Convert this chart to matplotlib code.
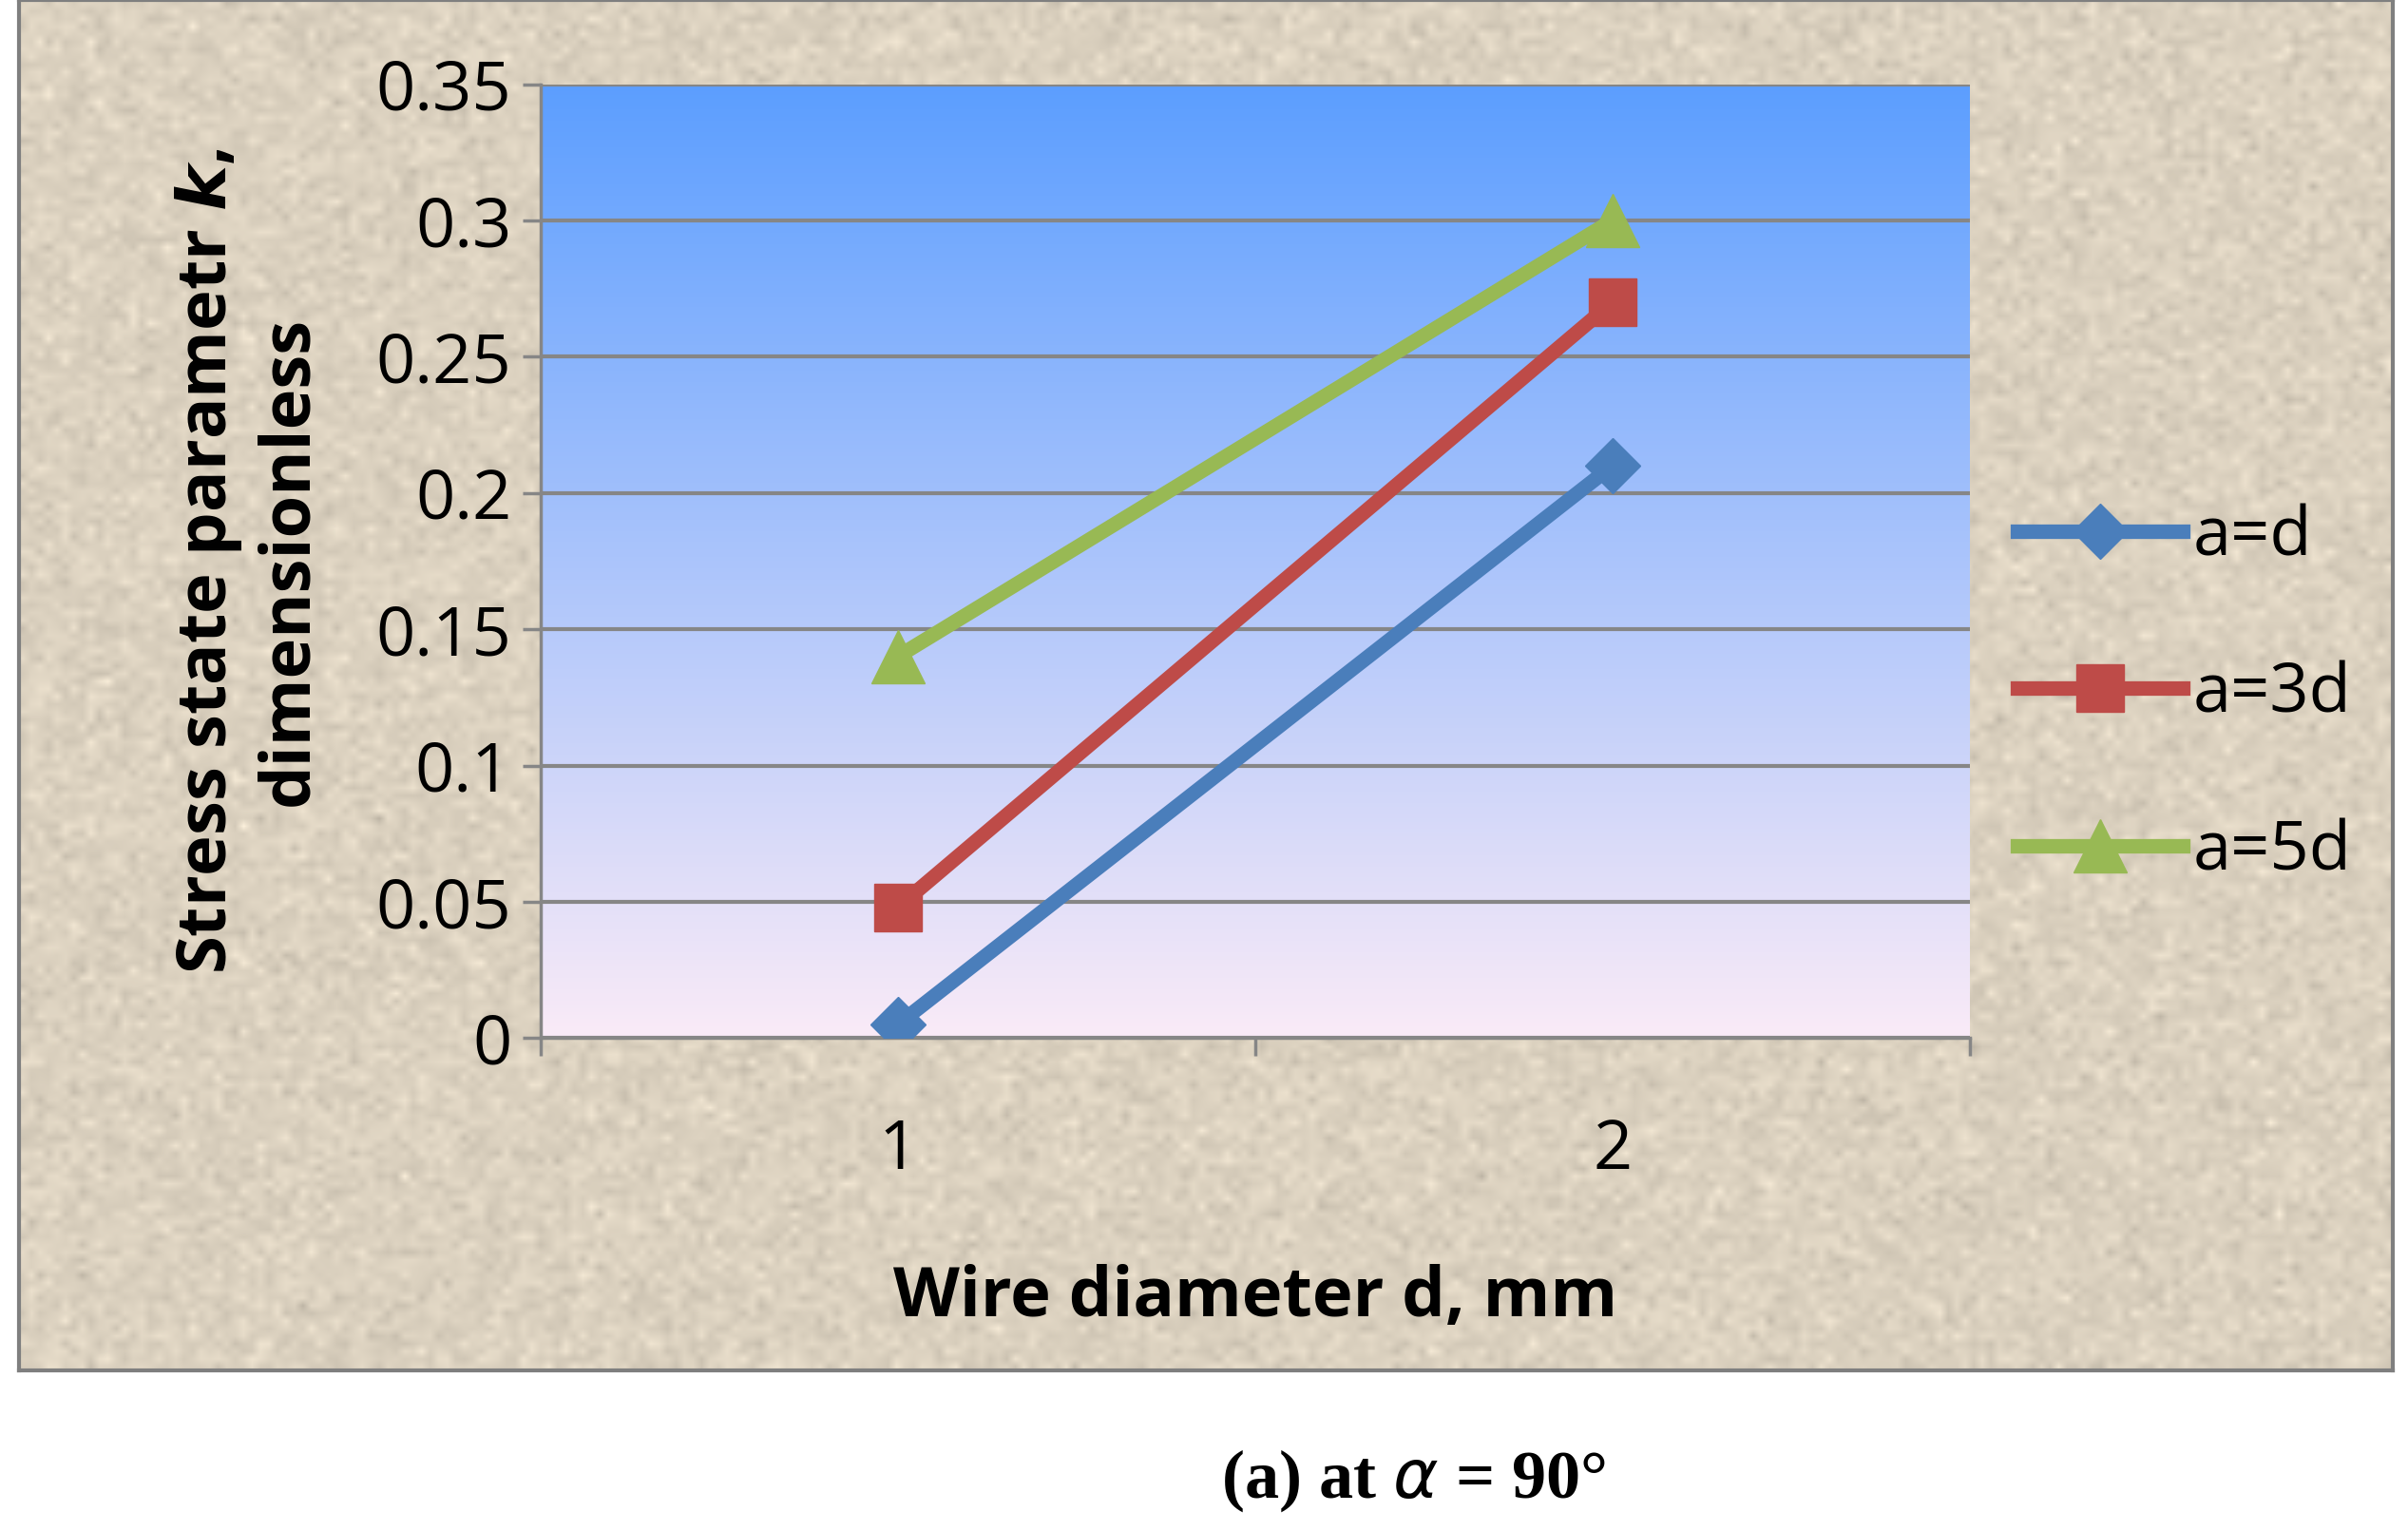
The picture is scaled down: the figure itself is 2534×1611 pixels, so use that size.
import numpy as np
import matplotlib
matplotlib.use("Agg")
import matplotlib.pyplot as plt

categories = ["1", "2"]
series_names = ["a=d", "a=3d", "a=5d"]
vals_ad = [0.005, 0.21]
vals_a3d = [0.048, 0.27]
vals_a5d = [0.14, 0.30]
yticks = [0, 0.05, 0.1, 0.15, 0.2, 0.25, 0.3, 0.35]
ytick_labels = ["0", "0.05", "0.1", "0.15", "0.2", "0.25", "0.3", "0.35"]

plt.rcParams['font.family'] = ['Open Sans', 'DejaVu Sans']
fig = plt.figure(figsize=(25.34, 16.11), dpi=100)
fig.patch.set_facecolor('white')

bg = fig.add_axes([0.0077, 0.105, 0.9859, 0.895])
rng = np.random.default_rng(1)
tex = 0.85 + 0.03 * rng.standard_normal((180, 280))
base = np.array([0.86, 0.82, 0.75])
img = np.clip(base[None, None, :] * (tex[..., None] / 0.85), 0, 1)
bg.imshow(img, aspect='auto', extent=[0, 1, 0, 1], interpolation='bilinear')
bg.set_xticks([]); bg.set_yticks([])
for s in bg.spines.values():
    s.set_color('#7f7f7f'); s.set_linewidth(3)

ax = fig.add_axes([0.2245, 0.322, 0.5935, 0.623])
top = np.array([0.36, 0.62, 1.0]); bot = np.array([0.98, 0.92, 0.97])
t = np.linspace(0, 1, 256)[:, None]
grad = top[None, :] * (1 - t) + bot[None, :] * t
ax.imshow(grad[:, None, :], aspect='auto', extent=[0, 2, 0, 0.35], zorder=0)
ax.set_xlim(0, 2); ax.set_ylim(0, 0.35)
ax.set_yticks(yticks); ax.set_yticklabels(ytick_labels)
ax.yaxis.grid(True, color='#868686', linewidth=3, zorder=1)
ax.set_axisbelow(False)
ax.set_xticks([0, 1, 2]); ax.set_xticklabels([])
ax.set_xticks([0.5, 1.5], minor=True)
ax.set_xticklabels(categories, minor=True)
ax.tick_params(axis='x', which='minor', length=0, pad=60, labelsize=52)
ax.tick_params(axis='x', which='major', length=14, width=2.5, direction='out', color='#868686')
ax.tick_params(axis='y', length=14, width=2.5, labelsize=52, color='#868686', pad=8)
for k in ['top', 'right']:
    ax.spines[k].set_visible(False)
for k in ['left', 'bottom']:
    ax.spines[k].set_color('#868686'); ax.spines[k].set_linewidth(2.5)

x = [0.5, 1.5]
ax.plot(x, vals_ad, color='#4a7ebb', lw=11, marker='D', ms=30, label=series_names[0], zorder=3)
ax.plot(x, vals_a3d, color='#be4b48', lw=11, marker='s', ms=36, label=series_names[1], zorder=3)
ax.plot(x, vals_a5d, color='#98b954', lw=11, marker='^', ms=40, label=series_names[2], zorder=3)

ax.set_xlabel("Wire diameter d, mm", fontsize=52, fontweight='bold', labelpad=60)
ax.set_ylabel("Stress state parametr $\\boldsymbol{k}$,\ndimensionless", fontsize=52, fontweight='bold', labelpad=40)

leg = ax.legend(loc='center left', bbox_to_anchor=(1.0, 0.36), frameon=False,
                fontsize=52, handlelength=2.4, labelspacing=1.3, handletextpad=0.15,
                borderaxespad=0.3)

fig.text(0.587, 0.022, "(a) at $\\alpha$ = 90°", fontsize=52, fontweight='bold',
         family=['Liberation Serif', 'DejaVu Serif'], ha='center')

fig.savefig("out.png", dpi=100)
